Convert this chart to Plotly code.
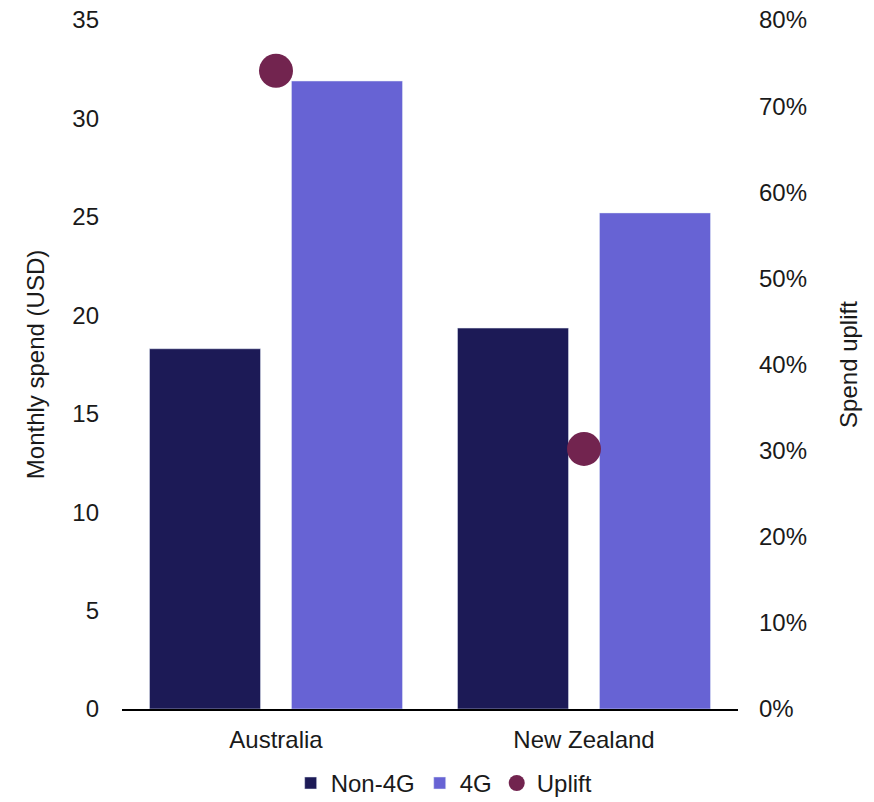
import plotly.graph_objects as go

categories = ["Australia", "New Zealand"]
non4g = [18.3, 19.35]
g4 = [31.9, 25.2]
uplift = [0.741, 0.302]

left_ticks = [0, 5, 10, 15, 20, 25, 30, 35]
right_ticks = [0, 0.1, 0.2, 0.3, 0.4, 0.5, 0.6, 0.7, 0.8]

FONT = "Liberation Sans, Arial, sans-serif"
FS = 24

fig = go.Figure()
fig.add_trace(go.Bar(name="Non-4G", x=categories, y=non4g, marker_color="#1c1a56"))
fig.add_trace(go.Bar(name="4G", x=categories, y=g4, marker_color="#6763d4"))
fig.add_trace(go.Scatter(name="Uplift", x=categories, y=uplift, mode="markers",
                         marker=dict(color="#72244f", size=34), yaxis="y2"))

fig.update_layout(
    width=874, height=802,
    margin=dict(l=122, r=136, t=20, b=93, autoexpand=False),
    plot_bgcolor="white", paper_bgcolor="white",
    font=dict(family=FONT, size=FS, color="#1a1a1a"),
    barmode="group", bargap=0.078, bargroupgap=0.218,
    xaxis=dict(showline=True, linecolor="black", linewidth=2, ticks="",
               showgrid=False, tickfont=dict(size=FS), ticklabelstandoff=8),
    yaxis=dict(range=[0, 35], tickvals=left_ticks, showgrid=False, zeroline=False,
               title=dict(text="Monthly spend (USD)", standoff=20, font=dict(size=FS)),
               ticklabelstandoff=22, tickfont=dict(size=FS)),
    yaxis2=dict(range=[0, 0.8], tickvals=right_ticks, tickformat=".0%", overlaying="y",
                side="right", showgrid=False, zeroline=False,
                title=dict(text="Spend uplift", standoff=34, font=dict(size=FS)),
                ticklabelstandoff=20, tickfont=dict(size=FS)),
    legend=dict(orientation="h", x=0.523, xanchor="center", y=-0.108, yanchor="middle",
                font=dict(size=FS), itemwidth=30, tracegroupgap=0),
    showlegend=True,
)

fig.write_html("out.html")
